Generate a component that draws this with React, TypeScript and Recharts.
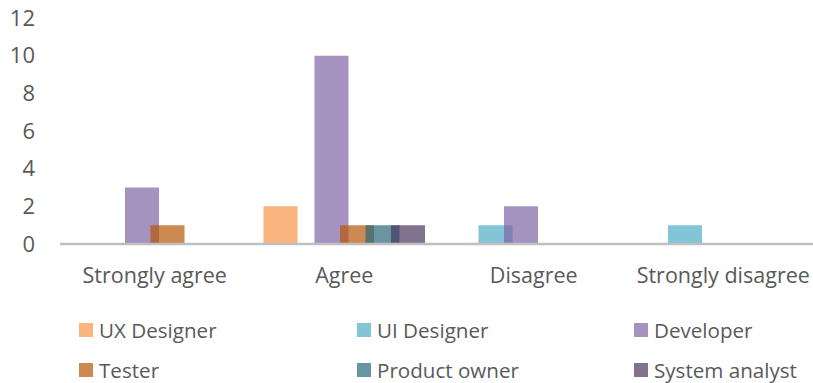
import { BarChart, Bar, XAxis, YAxis } from "recharts";

// Survey answers per role
const categories = ["Strongly agree", "Agree", "Disagree", "Strongly disagree"];
const uxDesigner = [0, 2, 0, 0];
const uiDesigner = [0, 0, 1, 1];
const developer = [3, 10, 2, 0];
const tester = [1, 1, 0, 0];
const productOwner = [0, 1, 0, 0];
const systemAnalyst = [0, 1, 0, 0];
const yTicks = [0, 2, 4, 6, 8, 10, 12];

const series = [
  { key: "ux", name: "UX Designer", values: uxDesigner, color: "#F79646" },
  { key: "ui", name: "UI Designer", values: uiDesigner, color: "#4BACC6" },
  { key: "dev", name: "Developer", values: developer, color: "#8064A2" },
  { key: "tester", name: "Tester", values: tester, color: "#B65708" },
  { key: "po", name: "Product owner", values: productOwner, color: "#266A7A" },
  { key: "sa", name: "System analyst", values: systemAnalyst, color: "#4C375F" },
];

const data = categories.map((c, i) => {
  const row: Record<string, string | number> = { name: c };
  series.forEach((s) => (row[s.key] = s.values[i]));
  return row;
});

const FONT = "'Open Sans', sans-serif";
const TEXT = "#595959";

export default function App() {
  return (
    <div
      style={{
        position: "fixed",
        left: 0,
        top: 0,
        width: 813,
        height: 383,
        overflow: "hidden",
        background: "#fff",
      }}
    >
      <BarChart
        width={830}
        height={383}
        data={data}
        margin={{ top: 18, right: 12, left: 0, bottom: 0 }}
        barSize={34}
        barGap={-8.5}
      >
        <XAxis
          dataKey="name"
          height={139}
          tickLine={false}
          tickSize={0}
          tickMargin={24}
          axisLine={{ stroke: "#BFBFBF", strokeWidth: 2.5 }}
          tick={{ fill: TEXT, fontSize: 21.5, fontFamily: FONT }}
          interval={0}
        />
        <YAxis
          width={60}
          domain={[0, 12]}
          ticks={yTicks}
          axisLine={false}
          tickLine={false}
          tickSize={0}
          tickMargin={25}
          tick={{ fill: TEXT, fontSize: 22, fontFamily: FONT }}
        />
        {series.map((s) => (
          <Bar
            key={s.key}
            dataKey={s.key}
            name={s.name}
            fill={s.color}
            fillOpacity={0.7}
            isAnimationActive={false}
          />
        ))}
      </BarChart>
      {/* legend: two rows of three */}
      {series.map((s, i) => (
        <div
          key={`legend-${s.key}`}
          style={{
            position: "absolute",
            left: [79, 357, 634][i % 3],
            top: i < 3 ? 316 : 356,
            height: 28,
            display: "flex",
            alignItems: "center",
            fontFamily: FONT,
            fontSize: 20.6,
            color: TEXT,
            whiteSpace: "nowrap",
          }}
        >
          <div
            style={{
              width: 14,
              height: 14,
              marginRight: 6,
              backgroundColor: s.color,
              opacity: 0.7,
            }}
          ></div>
          <span>{s.name}</span>
        </div>
      ))}
    </div>
  );
}
